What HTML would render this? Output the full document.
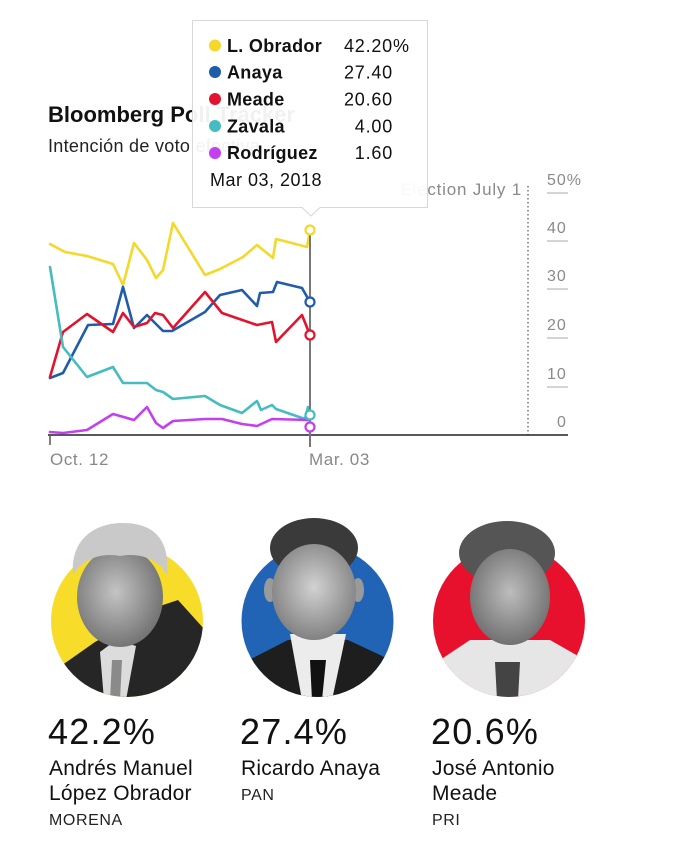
<!DOCTYPE html>
<html><head><meta charset="utf-8"><style>
html,body{margin:0;padding:0;background:#fff;}
svg{display:block;}
text{font-family:"Liberation Sans",Arial,sans-serif;}
</style></head><body>
<svg width="700" height="856" viewBox="0 0 700 856" xmlns="http://www.w3.org/2000/svg">
<rect width="700" height="856" fill="#fff"/>
<!-- Title -->
<text x="48" y="122" font-size="22" font-weight="bold" fill="#111">Bloomberg Poll Tracker</text>
<text x="48" y="152" font-size="18" fill="#222" letter-spacing="0.3">Intención de voto efectiva</text>

<!-- Election -->
<text x="522" y="195" font-size="17" fill="#8a8a8a" text-anchor="end" letter-spacing="0.8">Election July 1</text>
<line x1="528" y1="186" x2="528" y2="435" stroke="#555" stroke-width="1.2" stroke-dasharray="1.5 2.5"/>

<!-- Y axis labels -->
<g font-size="16" fill="#8a8a8a" letter-spacing="1">
<text x="547" y="185">50%</text>
<text x="547" y="233">40</text>
<text x="547" y="281">30</text>
<text x="547" y="330">20</text>
<text x="547" y="379">10</text>
<text x="557" y="427">0</text>
</g>
<g stroke="#aaa" stroke-width="1">
<line x1="547" y1="193" x2="568" y2="193"/>
<line x1="547" y1="241" x2="568" y2="241"/>
<line x1="547" y1="289" x2="568" y2="289"/>
<line x1="547" y1="338" x2="568" y2="338"/>
<line x1="547" y1="387" x2="568" y2="387"/>
</g>

<!-- axis -->
<line x1="48" y1="435" x2="568" y2="435" stroke="#222" stroke-width="1.5"/>
<line x1="50" y1="435" x2="50" y2="445" stroke="#555" stroke-width="1.5"/>
<text x="50" y="465" font-size="17" fill="#888" letter-spacing="0.6">Oct. 12</text>
<text x="309" y="465" font-size="17" fill="#888" letter-spacing="0.6">Mar. 03</text>

<!-- series -->
<g fill="none" stroke-width="2.6" stroke-linejoin="round" stroke-linecap="round">
<polyline stroke="#f4d82b" points="50,244 65,252 87,256 113,264 123,285 134,243 147,260 156,278 163,270 173,223 205,275 220,269 243,257 257,245 273,258 276,239 288,242 307,247 310,230"/>
<polyline stroke="#1f5cab" points="50,378 63,373 88,325 113,324 123,287 134,328 147,315 163,331 172,331 205,312 220,295 242,290 257,306 260,293 273,292 277,282 302,288 310,302"/>
<polyline stroke="#e3132d" points="50,377 63,332 87,314 113,332 123,313 134,327 147,323 155,313 163,315 173,328 205,292 222,313 257,325 272,322 276,342 302,315 310,335"/>
<polyline stroke="#45bcc0" points="50,267 63,347 87,377 113,367 123,383 147,383 156,390 163,392 173,399 205,396 220,405 242,413 257,401 261,410 272,405 276,409 305,419 308,407 310,415"/>
<polyline stroke="#c43ff0" points="50,432 63,433 87,430 113,414 134,420 147,407 156,423 163,428 173,421 205,419 222,419 242,424 257,426 272,419 310,420"/>
</g>
<!-- hover line -->
<line x1="310" y1="230" x2="310" y2="447" stroke="#777" stroke-width="2"/>
<g fill="#fff" stroke-width="2.2">
<circle cx="310" cy="230" r="4.5" stroke="#f4d82b"/>
<circle cx="310" cy="302" r="4.5" stroke="#1f5cab"/>
<circle cx="310" cy="335" r="4.5" stroke="#e3132d"/>
<circle cx="310" cy="415" r="4.5" stroke="#45bcc0"/>
<circle cx="310" cy="427" r="4.5" stroke="#c43ff0"/>
</g>

<!-- tooltip -->
<path d="M192.5,20.5 H427.5 V207.5 H320 L311,216 L302,207.5 H192.5 Z" fill="#fff" fill-opacity="0.94" stroke="#d8d8d8" stroke-width="1"/>
<circle cx="215" cy="45.5" r="6" fill="#f4d82b"/>
<circle cx="215" cy="72" r="6" fill="#1f5cab"/>
<circle cx="215" cy="99" r="6" fill="#e3132d"/>
<circle cx="215" cy="126" r="6" fill="#45bcc0"/>
<circle cx="215" cy="153" r="6" fill="#c43ff0"/>
<g font-size="18" font-weight="bold" fill="#111" letter-spacing="0.3">
<text x="227" y="52">L. Obrador</text>
<text x="227" y="78.5">Anaya</text>
<text x="227" y="105.5">Meade</text>
<text x="227" y="132.5">Zavala</text>
<text x="227" y="159">Rodríguez</text>
</g>
<g font-size="18" fill="#111" letter-spacing="0.8" text-anchor="end">
<text x="393" y="52">42.20</text>
<text x="393" y="78.5">27.40</text>
<text x="393" y="105.5">20.60</text>
<text x="393" y="132.5">4.00</text>
<text x="393" y="159">1.60</text>
</g>
<text x="393" y="52" font-size="18" fill="#111">%</text>
<text x="210" y="186" font-size="18" fill="#111" letter-spacing="0.5">Mar 03, 2018</text>

<defs>
<clipPath id="c1"><circle cx="127" cy="621" r="76"/><rect x="51" y="500" width="152" height="121"/></clipPath>
<clipPath id="c2"><circle cx="317.5" cy="621" r="76"/><rect x="241.5" y="500" width="152" height="121"/></clipPath>
<clipPath id="c3"><circle cx="509" cy="621" r="76"/><rect x="433" y="500" width="152" height="121"/></clipPath>
<radialGradient id="f1" cx="0.45" cy="0.45" r="0.6"><stop offset="0" stop-color="#c4c4c4"/><stop offset="1" stop-color="#6e6e6e"/></radialGradient>
<radialGradient id="f2" cx="0.5" cy="0.45" r="0.6"><stop offset="0" stop-color="#d2d2d2"/><stop offset="1" stop-color="#7a7a7a"/></radialGradient>
<radialGradient id="f3" cx="0.5" cy="0.45" r="0.6"><stop offset="0" stop-color="#bdbdbd"/><stop offset="1" stop-color="#6a6a6a"/></radialGradient>
</defs>

<!-- AMLO -->
<circle cx="127" cy="621" r="76" fill="#f7dd2a"/>
<g clip-path="url(#c1)">
<path d="M55,700 L58,668 L95,642 L160,606 L178,600 L205,630 L205,700 Z" fill="#262626"/>
<path d="M100,652 L116,640 L136,646 L126,700 L104,700 Z" fill="#dcdcdc"/>
<path d="M112,660 L122,660 L120,700 L110,700 Z" fill="#8a8a8a"/>
<ellipse cx="120" cy="597" rx="43" ry="50" fill="url(#f1)"/>
<path d="M73,575 C70,535 100,522 125,523 C155,524 170,540 167,575 C160,560 140,552 120,556 C100,552 82,560 73,575 Z" fill="#c9c9c9"/>
</g>

<!-- Anaya -->
<circle cx="317.5" cy="621" r="76" fill="#2164b5"/>
<g clip-path="url(#c2)">
<path d="M238,700 L245,662 L288,640 L348,640 L395,662 L395,700 Z" fill="#1e1e1e"/>
<path d="M290,634 L346,634 L332,700 L302,700 Z" fill="#ececec"/>
<path d="M310,660 L326,660 L322,700 L312,700 Z" fill="#111"/>
<ellipse cx="314" cy="548" rx="44" ry="30" fill="#3a3a3a"/>
<ellipse cx="270" cy="590" rx="6" ry="12" fill="#9a9a9a"/>
<ellipse cx="358" cy="590" rx="6" ry="12" fill="#9a9a9a"/>
<ellipse cx="314" cy="592" rx="42" ry="48" fill="url(#f2)"/>
</g>

<!-- Meade -->
<circle cx="509" cy="621" r="76" fill="#e8112d"/>
<g clip-path="url(#c3)">
<path d="M433,700 L440,660 L470,640 L550,640 L585,660 L585,700 Z" fill="#e6e6e6"/>
<path d="M495,662 L520,662 L518,700 L497,700 Z" fill="#444"/>
<ellipse cx="507" cy="553" rx="48" ry="32" fill="#555"/>
<ellipse cx="510" cy="597" rx="40" ry="48" fill="url(#f3)"/>
</g>

<!-- Bottom text -->
<g font-size="36" fill="#111" letter-spacing="1.2">
<text x="48" y="744">42.2%</text>
<text x="240" y="744">27.4%</text>
<text x="431" y="744">20.6%</text>
</g>
<g font-size="21" fill="#111" letter-spacing="0.2">
<text x="49" y="775">Andrés Manuel</text>
<text x="49" y="800">López Obrador</text>
<text x="241" y="775">Ricardo Anaya</text>
<text x="432" y="775">José Antonio</text>
<text x="432" y="800">Meade</text>
</g>
<g font-size="16" fill="#222" letter-spacing="0.6">
<text x="49" y="825">MORENA</text>
<text x="241" y="800">PAN</text>
<text x="432" y="825">PRI</text>
</g>
</svg>
</body></html>
